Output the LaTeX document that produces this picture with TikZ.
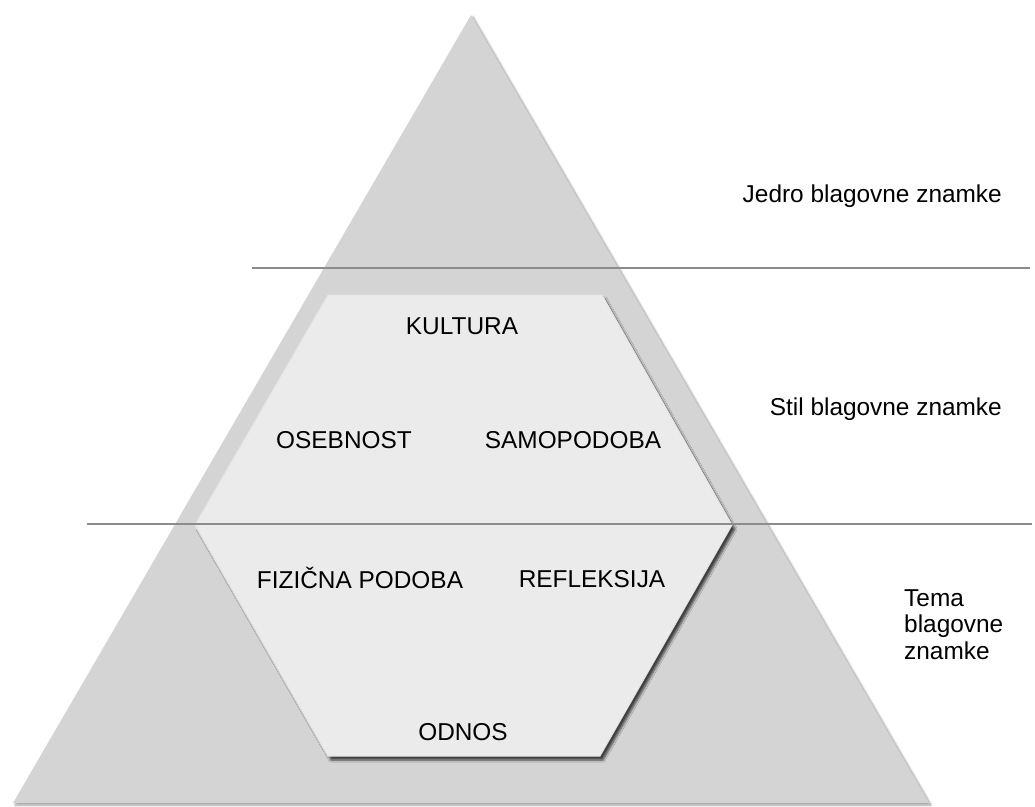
\documentclass[tikz,border=0pt]{standalone}
\usepackage{fontspec}
\setmainfont{Liberation Sans}
\usetikzlibrary{shadows.blur}
\definecolor{pyramidgray}{HTML}{D4D4D4}
\definecolor{hexgray}{HTML}{EBEBEB}
\definecolor{rulegray}{HTML}{8C8C8C}
\begin{document}
\begin{tikzpicture}[
            x=1pt, y=-1pt,
            every node/.style = {inner sep=0pt, font=\fontsize{24.4}{26.5}\selectfont},
            pyramid/.style = {fill=pyramidgray, blur shadow={shadow xshift=2pt, shadow yshift=-2pt, shadow blur steps=6, shadow opacity=40}},
            hexagon/.style = {fill=hexgray, draw=white!80!gray, line width=1pt, blur shadow={shadow xshift=3pt, shadow yshift=-4pt, shadow blur steps=6, shadow opacity=70}},
            levelrule/.style = {draw=rulegray, line width=1.2pt}
          ]
          \useasboundingbox (0,0) rectangle (1035,806);
          % pyramid and inner hexagon
          \path[pyramid] (471,15) -- (929,803) -- (13,803) -- cycle;
          \path[hexagon] (328,295) -- (602,295) -- (732,525) -- (600,756) -- (328,756) -- (195,525) -- cycle;
          % level rules
          \coordinate (top rule start) at (252,268);
          \coordinate (top rule end) at (1030,268);
          \coordinate (mid rule start) at (87,524);
          \coordinate (mid rule end) at (1032,524);
          \draw[levelrule] (top rule start) -- (top rule end);
          \draw[levelrule] (mid rule start) -- (mid rule end);
          % prism facets
          \node[anchor=base] (kultura) at (462,334) {KULTURA};
          \node[anchor=base] (osebnost) at (344,448) {OSEBNOST};
          \node[anchor=base] (samopodoba) at (573,448) {SAMOPODOBA};
          \node[anchor=base] (fizicna) at (360,588) {FIZIČNA PODOBA};
          \node[anchor=base] (refleksija) at (592,587) {REFLEKSIJA};
          \node[anchor=base] (odnos) at (463,740) {ODNOS};
          % level labels
          \node[anchor=base east] (jedro) at (1002,202) {Jedro blagovne znamke};
          \node[anchor=base east] (stil) at (1002,415) {Stil blagovne znamke};
          \node[anchor=north west, align=left] (tema) at (904,589.5) {Tema\\blagovne\\znamke};
        \end{tikzpicture}
\end{document}
